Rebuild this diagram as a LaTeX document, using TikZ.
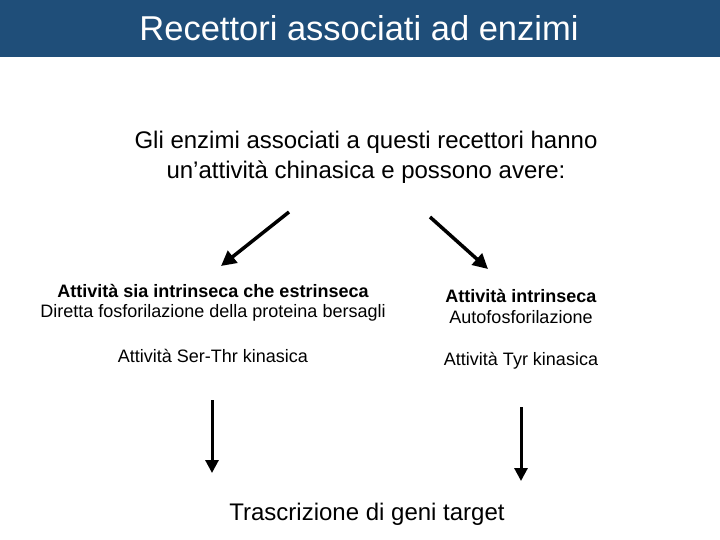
\documentclass[tikz,border=0pt]{standalone}
\usepackage{fontspec}
\setmainfont{Liberation Sans}
\usetikzlibrary{arrows.meta}
\definecolor{hdr}{RGB}{31,78,121}
\begin{document}
\begin{tikzpicture}[x=1pt,y=-1pt,
  arr/.style={line width=3.5pt,-{Triangle[length=15pt,width=15pt]}},
  varr/.style={line width=3pt,-{Triangle[length=13pt,width=13pt]}},
  big/.style={font=\fontsize{24}{30}\selectfont,align=center},
  sm/.style={font=\fontsize{18}{21}\selectfont},
  smb/.style={font=\bfseries\fontsize{18}{21}\selectfont}]
\useasboundingbox (0,0) rectangle (720,540);
\fill[hdr] (0,0) rectangle (720,57);
\node[text=white,font=\fontsize{34.5}{40}\selectfont] (title) at (359,28) {Recettori associati ad enzimi};
\node[big] (intro) at (366,157) {Gli enzimi associati a questi recettori hanno\\un’attività chinasica e possono avere:};
\coordinate (a1s) at (289,212); \coordinate (a1e) at (221,266);
\coordinate (a2s) at (430,217); \coordinate (a2e) at (488,269);
\draw[arr] (a1s) -- (a1e);
\draw[arr] (a2s) -- (a2e);
\node[smb] (l1) at (213,291) {Attività sia intrinseca che estrinseca};
\node[sm] (l2) at (213,313) {Diretta fosforilazione della proteina bersagli};
\node[smb] (r1) at (521,296) {Attività intrinseca};
\node[sm] (r2) at (521,317) {Autofosforilazione};
\node[sm] (l3) at (213,356) {Attività Ser-Thr kinasica};
\node[sm] (r3) at (521,361) {Attività Tyr kinasica};
\coordinate (v1s) at (212,400); \coordinate (v1e) at (212,473);
\coordinate (v2s) at (521,407); \coordinate (v2e) at (521,481);
\draw[varr] (v1s) -- (v1e);
\draw[varr] (v2s) -- (v2e);
\node[big] (bot) at (367,514) {Trascrizione di geni target};
\end{tikzpicture}
\end{document}
